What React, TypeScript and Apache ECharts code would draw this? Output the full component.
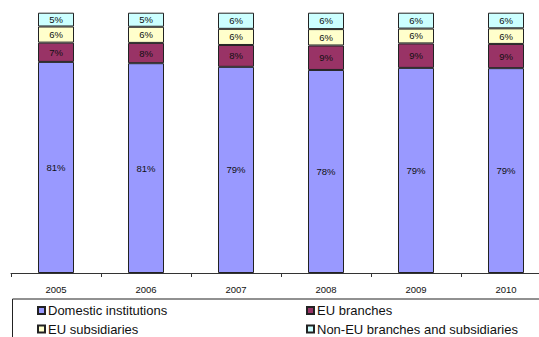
import React, { useEffect, useRef } from "react";
import * as echarts from "echarts";

const years = ["2005", "2006", "2007", "2008", "2009", "2010"];
const domestic = [81.1, 80.6, 79.2, 78.0, 78.8, 78.7];
const euBranches = [7.4, 7.8, 8.4, 9.4, 9.4, 9.3];
const euSubsidiaries = [6.2, 6.2, 6.2, 6.3, 5.7, 6.0];
const nonEU = [5.3, 5.4, 6.2, 6.3, 6.1, 6.0];

const FONT = '"Liberation Sans", Arial, sans-serif';

export default function App() {
  const ref = useRef<HTMLDivElement>(null);
  useEffect(() => {
    if (!ref.current) return;
    const chart = echarts.init(ref.current, undefined, { renderer: "svg" });
    const mk = (name: string, data: number[], color: string) => ({
      name,
      type: "bar",
      stack: "total",
      data,
      barWidth: 36,
      itemStyle: { color, borderColor: "#222", borderWidth: 1 },
      label: {
        show: true,
        position: "inside",
        color: "#111",
        fontFamily: FONT,
        fontSize: 9.5,
        formatter: (p: any) => Math.round(p.value) + "%",
      },
      emphasis: { disabled: true },
    });
    const legendText = { fontSize: 13, fontFamily: FONT, color: "#111", lineHeight: 14, padding: [0, 0, 0, -2] };
    chart.setOption({
      animation: false,
      textStyle: { fontFamily: FONT },
      grid: { left: 11, top: 12.7, width: 540, height: 260.3, outerBoundsMode: "none", containLabel: false },
      xAxis: {
        type: "category",
        data: years,
        axisLine: { lineStyle: { color: "#333", width: 1 } },
        axisTick: { show: true, length: 4, lineStyle: { color: "#333" } },
        axisLabel: { color: "#111", fontSize: 9.5, fontFamily: FONT, margin: 11 },
      },
      yAxis: { type: "value", min: 0, max: 100, show: false, splitLine: { show: false } },
      legend: [
        {
          data: ["Domestic institutions", "EU subsidiaries"],
          orient: "vertical",
          left: 37,
          top: 303.5,
          padding: 0,
          itemWidth: 7,
          itemHeight: 7,
          itemGap: 4.5,
          icon: "rect",
          selectedMode: false,
          textStyle: legendText,
        },
        {
          data: ["EU branches", "Non-EU branches and subsidiaries"],
          orient: "vertical",
          left: 306,
          top: 303.5,
          padding: 0,
          itemWidth: 7,
          itemHeight: 7,
          itemGap: 4.5,
          icon: "rect",
          selectedMode: false,
          textStyle: legendText,
        },
      ],
      graphic: [
        {
          type: "rect",
          shape: { x: 12.5, y: 299, width: 560, height: 60 },
          style: { fill: "none", stroke: "#222", lineWidth: 1 },
          z: -1,
        },
      ],
      series: [
        mk("Domestic institutions", domestic, "#9999FF"),
        mk("EU branches", euBranches, "#993366"),
        mk("EU subsidiaries", euSubsidiaries, "#FFFFCC"),
        mk("Non-EU branches and subsidiaries", nonEU, "#CCFFFF"),
      ],
    });
    return () => chart.dispose();
  }, []);
  return (
    <div
      ref={ref}
      style={{ position: "fixed", left: 0, top: 0, width: 539, height: 337, background: "#fff" }}
    />
  );
}
